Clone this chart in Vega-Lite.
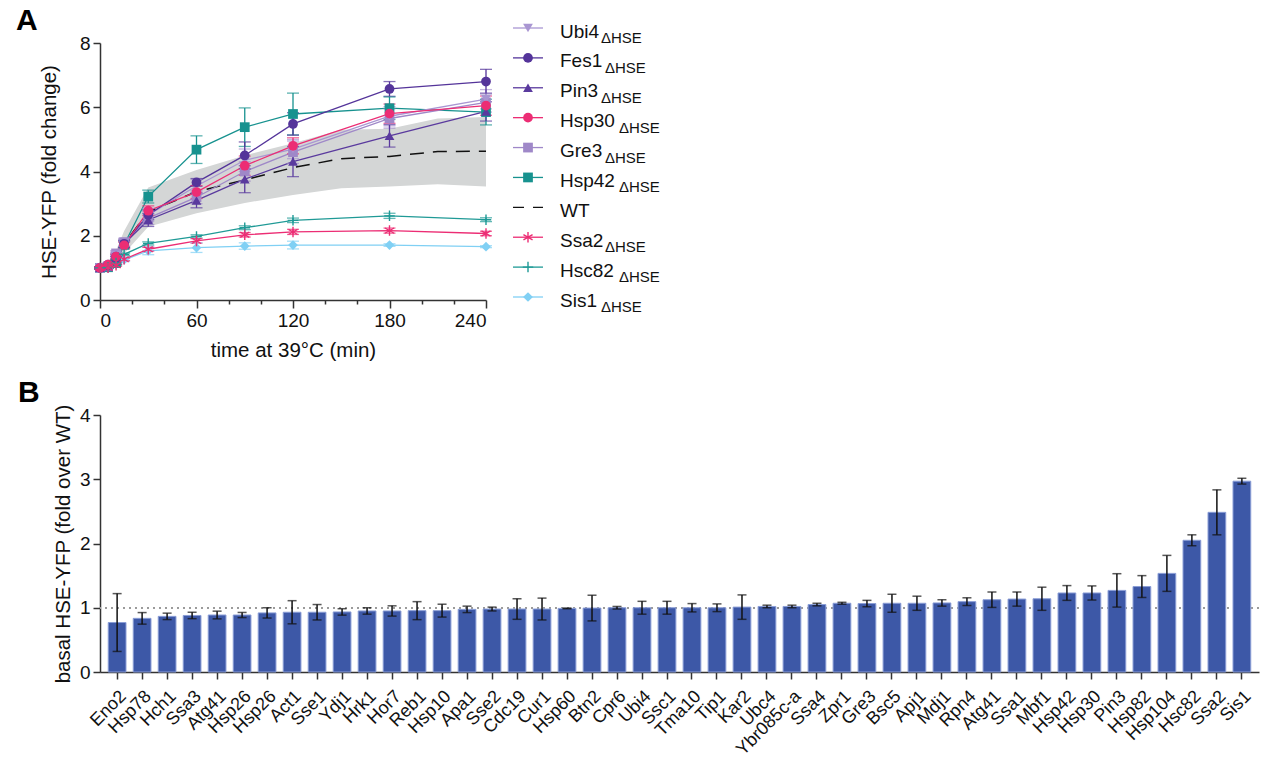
{
  "$schema": "https://vega.github.io/schema/vega-lite/v6.json",
  "padding": {"left": 16, "top": 5, "right": 0, "bottom": 0},
  "spacing": 16,
  "config": {
    "font": "Liberation Sans",
    "view": {"stroke": null},
    "axis": {"domainColor": "#333", "domainWidth": 1.5, "tickColor": "#333", "tickWidth": 1.5, "tickSize": 7, "labelFontSize": 19, "labelColor": "#111", "titleFontSize": 20.5, "titleFontWeight": "normal", "titleColor": "#111", "grid": false, "labelFont": "Liberation Sans", "titleFont": "Liberation Sans", "labelPadding": 3},
    "title": {"fontSize": 30, "fontWeight": "bold", "anchor": "start", "frame": "group", "color": "#000", "baseline": "alphabetic"}
  },
  "datasets": {
    "ts": [
      {"g":"Sis1","t":0,"v":1.0,"e":0.03},{"g":"Sis1","t":5,"v":1.05,"e":0.03},{"g":"Sis1","t":10,"v":1.12,"e":0.04},{"g":"Sis1","t":15,"v":1.25,"e":0.05},{"g":"Sis1","t":30,"v":1.53,"e":0.12},{"g":"Sis1","t":60,"v":1.63,"e":0.15},{"g":"Sis1","t":90,"v":1.68,"e":0.1},{"g":"Sis1","t":120,"v":1.71,"e":0.12},{"g":"Sis1","t":180,"v":1.71,"e":0.04},{"g":"Sis1","t":240,"v":1.66,"e":0.03},
      {"g":"Hsc82","t":0,"v":1.0,"e":0.02},{"g":"Hsc82","t":5,"v":1.02,"e":0.02},{"g":"Hsc82","t":10,"v":1.15,"e":0.03},{"g":"Hsc82","t":15,"v":1.42,"e":0.04},{"g":"Hsc82","t":30,"v":1.76,"e":0.05},{"g":"Hsc82","t":60,"v":1.98,"e":0.05},{"g":"Hsc82","t":90,"v":2.25,"e":0.06},{"g":"Hsc82","t":120,"v":2.48,"e":0.07},{"g":"Hsc82","t":180,"v":2.62,"e":0.08},{"g":"Hsc82","t":240,"v":2.5,"e":0.06},
      {"g":"Ssa2","t":0,"v":1.0,"e":0.02},{"g":"Ssa2","t":5,"v":1.0,"e":0.02},{"g":"Ssa2","t":10,"v":1.08,"e":0.03},{"g":"Ssa2","t":15,"v":1.27,"e":0.04},{"g":"Ssa2","t":30,"v":1.58,"e":0.06},{"g":"Ssa2","t":60,"v":1.84,"e":0.07},{"g":"Ssa2","t":90,"v":2.03,"e":0.07},{"g":"Ssa2","t":120,"v":2.12,"e":0.08},{"g":"Ssa2","t":180,"v":2.16,"e":0.08},{"g":"Ssa2","t":240,"v":2.07,"e":0.07},
      {"g":"Hsp42","t":0,"v":1.0,"e":0.03},{"g":"Hsp42","t":5,"v":1.02,"e":0.03},{"g":"Hsp42","t":10,"v":1.15,"e":0.05},{"g":"Hsp42","t":15,"v":1.72,"e":0.1},{"g":"Hsp42","t":30,"v":3.22,"e":0.2},{"g":"Hsp42","t":60,"v":4.68,"e":0.43},{"g":"Hsp42","t":90,"v":5.38,"e":0.6},{"g":"Hsp42","t":120,"v":5.79,"e":0.65},{"g":"Hsp42","t":180,"v":5.97,"e":0.35},{"g":"Hsp42","t":240,"v":5.85,"e":0.4},
      {"g":"Gre3","t":0,"v":1.0,"e":0.03},{"g":"Gre3","t":5,"v":1.05,"e":0.04},{"g":"Gre3","t":10,"v":1.45,"e":0.08},{"g":"Gre3","t":15,"v":1.8,"e":0.12},{"g":"Gre3","t":30,"v":2.55,"e":0.2},{"g":"Gre3","t":60,"v":3.2,"e":0.2},{"g":"Gre3","t":90,"v":4.0,"e":0.3},{"g":"Gre3","t":120,"v":4.6,"e":0.35},{"g":"Gre3","t":180,"v":5.65,"e":0.3},{"g":"Gre3","t":240,"v":6.15,"e":0.3},
      {"g":"Ubi4","t":0,"v":1.0,"e":0.03},{"g":"Ubi4","t":5,"v":1.05,"e":0.04},{"g":"Ubi4","t":10,"v":1.4,"e":0.08},{"g":"Ubi4","t":15,"v":1.7,"e":0.12},{"g":"Ubi4","t":30,"v":2.65,"e":0.2},{"g":"Ubi4","t":60,"v":3.55,"e":0.2},{"g":"Ubi4","t":90,"v":4.35,"e":0.35},{"g":"Ubi4","t":120,"v":4.7,"e":0.3},{"g":"Ubi4","t":180,"v":5.72,"e":0.3},{"g":"Ubi4","t":240,"v":6.25,"e":0.3},
      {"g":"Pin3","t":0,"v":1.0,"e":0.03},{"g":"Pin3","t":5,"v":1.05,"e":0.04},{"g":"Pin3","t":10,"v":1.3,"e":0.06},{"g":"Pin3","t":15,"v":1.75,"e":0.1},{"g":"Pin3","t":30,"v":2.49,"e":0.2},{"g":"Pin3","t":60,"v":3.1,"e":0.23},{"g":"Pin3","t":90,"v":3.76,"e":0.42},{"g":"Pin3","t":120,"v":4.31,"e":0.47},{"g":"Pin3","t":180,"v":5.11,"e":0.35},{"g":"Pin3","t":240,"v":5.87,"e":0.3},
      {"g":"Fes1","t":0,"v":1.0,"e":0.03},{"g":"Fes1","t":5,"v":1.1,"e":0.04},{"g":"Fes1","t":10,"v":1.35,"e":0.08},{"g":"Fes1","t":15,"v":1.75,"e":0.12},{"g":"Fes1","t":30,"v":2.65,"e":0.15},{"g":"Fes1","t":60,"v":3.66,"e":0.12},{"g":"Fes1","t":90,"v":4.5,"e":0.42},{"g":"Fes1","t":120,"v":5.48,"e":0.35},{"g":"Fes1","t":180,"v":6.57,"e":0.23},{"g":"Fes1","t":240,"v":6.8,"e":0.38},
      {"g":"Hsp30","t":0,"v":1.0,"e":0.03},{"g":"Hsp30","t":5,"v":1.1,"e":0.04},{"g":"Hsp30","t":10,"v":1.35,"e":0.08},{"g":"Hsp30","t":15,"v":1.7,"e":0.1},{"g":"Hsp30","t":30,"v":2.78,"e":0.15},{"g":"Hsp30","t":60,"v":3.36,"e":0.2},{"g":"Hsp30","t":90,"v":4.18,"e":0.3},{"g":"Hsp30","t":120,"v":4.8,"e":0.25},{"g":"Hsp30","t":180,"v":5.8,"e":0.3},{"g":"Hsp30","t":240,"v":6.05,"e":0.3}
    ],
    "wt": [
      {"t":0,"m":1.0,"lo":1.0,"hi":1.0},{"t":5,"m":1.1,"lo":1.05,"hi":1.2},{"t":10,"m":1.35,"lo":1.2,"hi":1.55},{"t":15,"m":1.75,"lo":1.45,"hi":2.15},{"t":30,"m":2.75,"lo":2.28,"hi":3.5},{"t":60,"m":3.37,"lo":2.7,"hi":4.05},{"t":90,"m":3.74,"lo":3.02,"hi":4.5},{"t":120,"m":4.12,"lo":3.27,"hi":4.88},{"t":150,"m":4.4,"lo":3.48,"hi":5.3},{"t":180,"m":4.47,"lo":3.53,"hi":5.33},{"t":210,"m":4.62,"lo":3.6,"hi":5.65},{"t":240,"m":4.63,"lo":3.53,"hi":5.7}
    ],
    "leg": [
      {"g":"Ubi4"},{"g":"Fes1"},{"g":"Pin3"},{"g":"Hsp30"},{"g":"Gre3"},{"g":"Hsp42"},{"g":"WT"},{"g":"Ssa2"},{"g":"Hsc82"},{"g":"Sis1"}
    ],
    "bars": [
      {"g":"Eno2","v":0.77,"e":0.45},{"g":"Hsp78","v":0.835,"e":0.09},{"g":"Hch1","v":0.866,"e":0.05},{"g":"Ssa3","v":0.88,"e":0.05},{"g":"Atg41","v":0.887,"e":0.06},{"g":"Hsp26","v":0.887,"e":0.04},{"g":"Hsp26\u200b","v":0.92,"e":0.08},{"g":"Act1","v":0.93,"e":0.18},{"g":"Sse1","v":0.93,"e":0.12},{"g":"Ydj1","v":0.935,"e":0.05},
      {"g":"Hrk1","v":0.95,"e":0.05},{"g":"Hor7","v":0.95,"e":0.08},{"g":"Reb1","v":0.955,"e":0.14},{"g":"Hsp10","v":0.955,"e":0.1},{"g":"Apa1","v":0.975,"e":0.05},{"g":"Sse2","v":0.98,"e":0.03},{"g":"Cdc19","v":0.98,"e":0.16},{"g":"Cur1","v":0.98,"e":0.17},{"g":"Hsp60","v":0.99,"e":0.005},{"g":"Btn2","v":0.995,"e":0.2},
      {"g":"Cpr6","v":1.0,"e":0.02},{"g":"Ubi4","v":1.0,"e":0.1},{"g":"Ssc1","v":1.0,"e":0.1},{"g":"Tma10","v":1.0,"e":0.065},{"g":"Tip1","v":1.0,"e":0.06},{"g":"Kar2","v":1.01,"e":0.19},{"g":"Ubc4","v":1.02,"e":0.02},{"g":"Ybr085c-a","v":1.02,"e":0.02},{"g":"Ssa4","v":1.05,"e":0.02},{"g":"Zpr1","v":1.07,"e":0.015},
      {"g":"Gre3","v":1.065,"e":0.05},{"g":"Bsc5","v":1.07,"e":0.14},{"g":"Apj1","v":1.07,"e":0.11},{"g":"Mdj1","v":1.075,"e":0.05},{"g":"Rpn4","v":1.095,"e":0.06},{"g":"Atg41\u200b","v":1.125,"e":0.12},{"g":"Ssa1","v":1.135,"e":0.11},{"g":"Mbf1","v":1.14,"e":0.18},{"g":"Hsp42","v":1.23,"e":0.115},{"g":"Hsp30","v":1.23,"e":0.11},
      {"g":"Pin3","v":1.27,"e":0.26},{"g":"Hsp82","v":1.33,"e":0.17},{"g":"Hsp104","v":1.535,"e":0.28},{"g":"Hsc82","v":2.05,"e":0.085},{"g":"Ssa2","v":2.485,"e":0.35},{"g":"Sis1","v":2.97,"e":0.045}
    ]
  },
  "vconcat": [
    {
      "width": 386,
      "height": 257,
      "title": {"text": "A", "dx": -84, "offset": 0, "dy": 13},
      "layer": [
        {
          "layer": [
            {
              "data": {"name": "wt"},
              "mark": {"type": "area", "color": "#d4d6d6"},
              "encoding": {
                "x": {"field": "t", "type": "quantitative", "title": "time at 39°C (min)", "scale": {"domain": [0, 240], "nice": false},
                  "axis": {"values": [0, 60, 120, 180, 240], "tickSize": 8, "titlePadding": 10}},
                "y": {"field": "lo", "type": "quantitative", "title": "HSE-YFP (fold change)", "scale": {"domain": [0, 8], "nice": false},
                  "axis": {"values": [0,2,4,6,8], "titlePadding": 20}},
                "y2": {"field": "hi"}
              }
            },
            {
              "data": {"name": "wt"},
              "mark": {"type": "line", "color": "#111", "strokeDash": [14, 9], "strokeWidth": 1.5},
              "encoding": {
                "x": {"field": "t", "type": "quantitative", "title": "time at 39°C (min)"},
                "y": {"field": "m", "type": "quantitative", "title": "HSE-YFP (fold change)"}
              }
            },
            {
              "data": {"name": "ts"},
              "mark": {"type": "line", "strokeWidth": 1.3},
              "encoding": {
                "x": {"field": "t", "type": "quantitative", "title": "time at 39°C (min)"},
                "y": {"field": "v", "type": "quantitative", "title": "HSE-YFP (fold change)"},
                "color": {"field": "g", "type": "nominal", "legend": null,
                  "scale": {"domain": ["Ubi4","Fes1","Pin3","Hsp30","Gre3","Hsp42","WT","Ssa2","Hsc82","Sis1"],
                            "range": ["#a996d2","#54349a","#5a3a9e","#ec2d74","#9f88c8","#17928f","#111111","#ec2d74","#1f9a96","#80d0f4"]}}
              }
            },
            {
              "data": {"name": "ts"},
              "mark": {"type": "errorbar", "ticks": {"size": 12}, "thickness": 1.3},
              "encoding": {
                "x": {"field": "t", "type": "quantitative", "title": "time at 39°C (min)"},
                "y": {"field": "v", "type": "quantitative", "title": "HSE-YFP (fold change)"},
                "yError": {"field": "e"},
                "color": {"field": "g", "type": "nominal", "legend": null}
              }
            },
            {
              "data": {"name": "ts"},
              "transform": [{"filter": {"not": {"field": "g", "oneOf": ["Ssa2", "Hsc82"]}}}],
              "mark": {"type": "point", "filled": true, "size": 95, "opacity": 1},
              "encoding": {
                "x": {"field": "t", "type": "quantitative", "title": "time at 39°C (min)"},
                "y": {"field": "v", "type": "quantitative", "title": "HSE-YFP (fold change)"},
                "color": {"field": "g", "type": "nominal", "legend": null},
                "shape": {"field": "g", "type": "nominal", "legend": null,
                  "scale": {"domain": ["Ubi4","Fes1","Pin3","Hsp30","Gre3","Hsp42","WT","Ssa2","Hsc82","Sis1"],
                            "range": ["triangle-down","circle","triangle-up","circle","square","square","circle","M0,-1L0,1M-0.87,-0.5L0.87,0.5M-0.87,0.5L0.87,-0.5","M-1,0L1,0M0,-1L0,1","diamond"]}}
              }
            },
            {
              "data": {"name": "ts"},
              "transform": [{"filter": {"field": "g", "oneOf": ["Ssa2", "Hsc82"]}}],
              "mark": {"type": "point", "filled": false, "size": 110, "strokeWidth": 1.4, "opacity": 1},
              "encoding": {
                "x": {"field": "t", "type": "quantitative", "title": "time at 39°C (min)"},
                "y": {"field": "v", "type": "quantitative", "title": "HSE-YFP (fold change)"},
                "color": {"field": "g", "type": "nominal", "legend": null},
                "shape": {"field": "g", "type": "nominal", "legend": null}
              }
            }
          ]
        },
        {
          "data": {"name": "wt"},
          "mark": {"type": "point", "opacity": 0},
          "encoding": {
            "x": {"field": "t", "type": "quantitative", "scale": {"domain": [0, 240], "nice": false},
              "axis": {"orient": "bottom", "values": [20, 40, 80, 100, 140, 160, 200, 220], "labels": false, "domain": false, "tickSize": 4, "title": null}}
          }
        },
        {
          "data": {"name": "leg"},
          "layer": [
            {
              "transform": [{"filter": "datum.g !== 'WT'"}],
              "mark": {"type": "rule", "strokeWidth": 1.3},
              "encoding": {
                "x": {"datum": 0, "type": "quantitative", "scale": {"domain": [0, 100], "range": [413, 513]}, "axis": null},
                "x2": {"datum": 30},
                "y": {"field": "g", "type": "nominal", "axis": null,
                  "scale": {"type": "point", "padding": 0, "range": [-15, 254],
                            "domain": ["Ubi4","Fes1","Pin3","Hsp30","Gre3","Hsp42","WT","Ssa2","Hsc82","Sis1"]}},
                "color": {"field": "g", "type": "nominal", "legend": null}
              }
            },
            {
              "transform": [{"filter": "datum.g === 'WT'"}],
              "mark": {"type": "rule", "strokeWidth": 1.3, "strokeDash": [11, 9]},
              "encoding": {
                "x": {"datum": 0, "type": "quantitative", "axis": null},
                "x2": {"datum": 30},
                "y": {"field": "g", "type": "nominal", "axis": null},
                "color": {"field": "g", "type": "nominal", "legend": null}
              }
            },
            {
              "transform": [{"filter": {"not": {"field": "g", "oneOf": ["Ssa2", "Hsc82", "WT"]}}}],
              "mark": {"type": "point", "filled": true, "size": 95, "opacity": 1},
              "encoding": {
                "x": {"datum": 15, "type": "quantitative", "axis": null},
                "y": {"field": "g", "type": "nominal", "axis": null},
                "color": {"field": "g", "type": "nominal", "legend": null},
                "shape": {"field": "g", "type": "nominal", "legend": null}
              }
            },
            {
              "transform": [{"filter": {"field": "g", "oneOf": ["Ssa2", "Hsc82"]}}],
              "mark": {"type": "point", "filled": false, "size": 110, "strokeWidth": 1.4, "opacity": 1},
              "encoding": {
                "x": {"datum": 15, "type": "quantitative", "axis": null},
                "y": {"field": "g", "type": "nominal", "axis": null},
                "color": {"field": "g", "type": "nominal", "legend": null},
                "shape": {"field": "g", "type": "nominal", "legend": null}
              }
            },
            {
              "mark": {"type": "text", "align": "left", "baseline": "alphabetic", "fontSize": 19, "dy": 9.5, "color": "#111"},
              "encoding": {
                "x": {"datum": 47, "type": "quantitative", "axis": null},
                "y": {"field": "g", "type": "nominal", "axis": null},
                "text": {"field": "g"}
              }
            },
            {
              "transform": [{"filter": {"field": "g", "oneOf": ["Ubi4", "Pin3", "Sis1"]}}],
              "mark": {"type": "text", "align": "left", "baseline": "alphabetic", "fontSize": 15, "dy": 15, "dx": 41, "color": "#111", "text": "ΔHSE"},
              "encoding": {
                "x": {"datum": 47, "type": "quantitative", "axis": null},
                "y": {"field": "g", "type": "nominal", "axis": null}
              }
            },
            {
              "transform": [{"filter": {"field": "g", "oneOf": ["Fes1", "Gre3", "Ssa2"]}}],
              "mark": {"type": "text", "align": "left", "baseline": "alphabetic", "fontSize": 15, "dy": 15, "dx": 45, "color": "#111", "text": "ΔHSE"},
              "encoding": {
                "x": {"datum": 47, "type": "quantitative", "axis": null},
                "y": {"field": "g", "type": "nominal", "axis": null}
              }
            },
            {
              "transform": [{"filter": {"field": "g", "oneOf": ["Hsp30", "Hsp42", "Hsc82"]}}],
              "mark": {"type": "text", "align": "left", "baseline": "alphabetic", "fontSize": 15, "dy": 15, "dx": 59, "color": "#111", "text": "ΔHSE"},
              "encoding": {
                "x": {"datum": 47, "type": "quantitative", "axis": null},
                "y": {"field": "g", "type": "nominal", "axis": null}
              }
            }
          ]
        }
      ],
      "resolve": {"scale": {"x": "independent", "y": "independent"}, "axis": {"x": "independent"}}
    },
    {
      "width": 1159,
      "height": 257,
      "title": {"text": "B", "dx": -82, "offset": 0, "dy": 4},
      "data": {"name": "bars"},
      "layer": [
        {
          "mark": {"type": "rule", "color": "#9a9a9a", "strokeDash": [2, 4], "strokeWidth": 1},
          "encoding": {"y": {"datum": 1, "type": "quantitative", "title": "basal HSE-YFP (fold over WT)"}}
        },
        {
          "mark": {"type": "bar", "color": "#3d58a7", "stroke": "#8a9dd6", "strokeWidth": 1},
          "encoding": {
            "x": {"field": "g", "type": "nominal", "sort": null, "title": null, "scale": {"paddingInner": 0.29, "paddingOuter": 0.33},
              "axis": {"labelAngle": -45, "tickSize": 7, "labelPadding": 8, "labelFontSize": 18}},
            "y": {"field": "v", "type": "quantitative", "title": "basal HSE-YFP (fold over WT)", "scale": {"domain": [0, 4], "nice": false},
              "axis": {"values": [0,1,2,3,4], "format": "d", "titlePadding": 6}}
          }
        },
        {
          "mark": {"type": "errorbar", "color": "#111", "ticks": {"size": 9}, "thickness": 1.5},
          "encoding": {
            "x": {"field": "g", "type": "nominal", "sort": null, "title": null},
            "y": {"field": "v", "type": "quantitative", "title": "basal HSE-YFP (fold over WT)"},
            "yError": {"field": "e"}
          }
        }
      ]
    }
  ]
}
